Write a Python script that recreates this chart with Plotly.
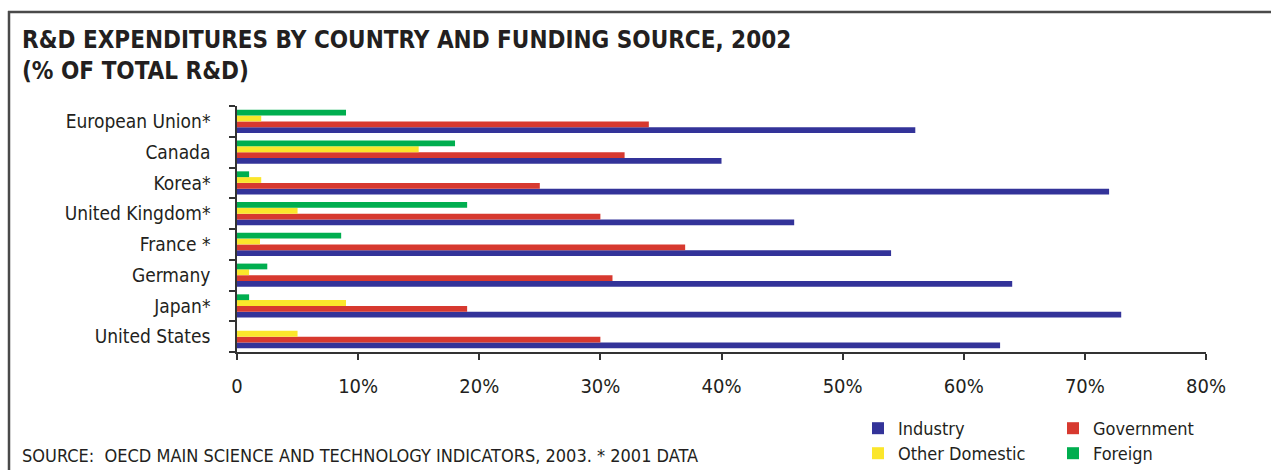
import plotly.graph_objects as go

# ---- data (top-to-bottom order as in the chart) ----
countries = ["European Union*", "Canada", "Korea*", "United Kingdom*",
             "France *", "Germany", "Japan*", "United States"]
industry = [56, 40, 72, 46, 54, 64, 73, 63]
government = [34, 32, 25, 30, 37, 31, 19, 30]
other_domestic = [2, 15, 2, 5, 1.9, 1, 9, 5]
foreign = [9, 18, 1, 19, 8.6, 2.5, 1, 0]

series_names = ["Industry", "Government", "Other Domestic", "Foreign"]
series_colors = ["#333399", "#D7392F", "#FBE62B", "#00AE4F"]
x_tick_vals = [0, 10, 20, 30, 40, 50, 60, 70, 80]
x_tick_text = ["0", "10%", "20%", "30%", "40%", "50%", "60%", "70%", "80%"]

W, H = 1271, 470
L, R, T, B = 237, 65, 106, 118
PW, PH = W - L - R, H - T - B


def px(x):
    return (x - L) / PW


def py(y):
    return (H - B - y) / PH


FONT = "DejaVu Sans Condensed, Liberation Sans Narrow, sans-serif"
TXT = "#231F20"

fig = go.Figure()
all_vals = [industry, government, other_domestic, foreign]
legends = ["legend", "legend", "legend2", "legend2"]
for name, vals, col, lg in zip(series_names, all_vals, series_colors, legends):
    fig.add_trace(go.Bar(
        y=countries, x=vals, name=name, orientation="h",
        marker=dict(color=col, line=dict(width=0)),
        legend=lg,
    ))

legend_common = dict(
    orientation="h", xanchor="left", yanchor="top",
    entrywidth=150, font=dict(family=FONT, size=18, color=TXT),
    bgcolor="rgba(0,0,0,0)", traceorder="normal",
)

fig.update_layout(
    width=W, height=H,
    margin=dict(l=L, r=R, t=T, b=B, autoexpand=False),
    paper_bgcolor="white", plot_bgcolor="white",
    barmode="group", bargap=0.25, bargroupgap=0,
    font=dict(family=FONT, size=19, color=TXT),
    title=dict(
        text="R&D EXPENDITURES BY COUNTRY AND FUNDING SOURCE, 2002<br>(% OF TOTAL R&D)",
        font=dict(family=FONT, size=24, color=TXT, weight="bold"),
        xref="container", yref="container",
        x=22 / W, xanchor="left", y=1 - 48 / H, yanchor="top",
    ),
    xaxis=dict(
        range=[0, 80], tickvals=x_tick_vals, ticktext=x_tick_text,
        showgrid=False, zeroline=False, showline=True, linecolor="#333",
        linewidth=1.5, ticks="outside", ticklen=6, tickwidth=1.5,
        tickcolor="#333", ticklabelstandoff=9,
        tickfont=dict(family=FONT, size=20, color=TXT),
        fixedrange=True,
    ),
    yaxis=dict(
        categoryorder="array", categoryarray=list(reversed(countries)),
        showgrid=False, zeroline=False, showline=True, linecolor="#333",
        linewidth=1.5, ticks="outside", ticklen=6, tickwidth=1.5,
        tickcolor="#333", tickson="boundaries", ticklabelstandoff=21,
        tickfont=dict(family=FONT, size=19, color=TXT),
        fixedrange=True,
    ),
    legend=dict(x=px(858), y=py(410), **legend_common),
    legend2=dict(x=px(858), y=py(435), **legend_common),
    showlegend=True,
)

# frame lines (top and left)
fig.add_shape(type="line", xref="paper", yref="paper",
              x0=px(8), x1=px(W + 2), y0=py(12), y1=py(12),
              line=dict(color="#4A4A4A", width=2.5))
fig.add_shape(type="line", xref="paper", yref="paper",
              x0=px(9), x1=px(9), y0=py(11), y1=py(H + 2),
              line=dict(color="#4A4A4A", width=2.5))

fig.add_annotation(
    text="SOURCE:  OECD MAIN SCIENCE AND TECHNOLOGY INDICATORS, 2003. * 2001 DATA",
    xref="paper", yref="paper", x=px(20), y=py(455), xanchor="left", yanchor="middle",
    showarrow=False, font=dict(family=FONT, size=18, color=TXT),
)

fig.write_html("out.html", config={"displayModeBar": False},
               post_script="document.body.style.margin='0';")
